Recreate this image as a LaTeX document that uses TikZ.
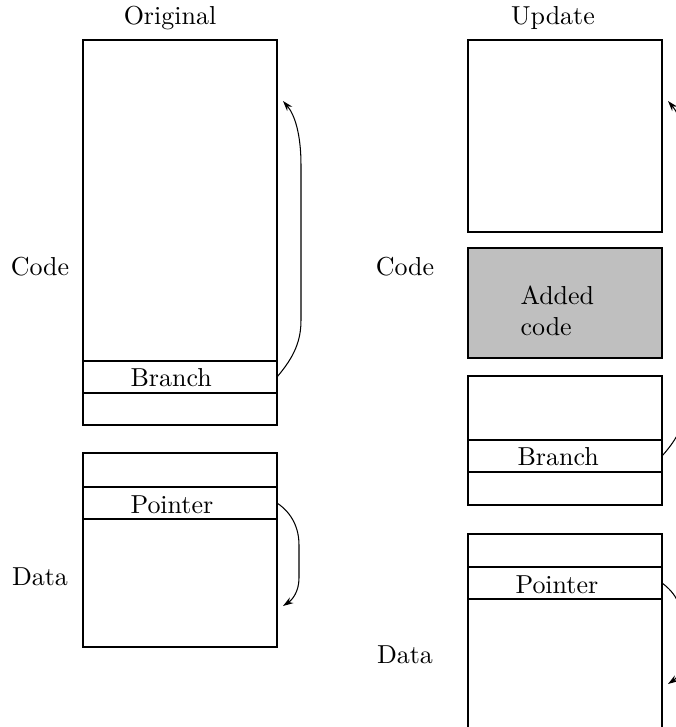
\documentclass[tikz,border=0pt]{standalone}
\usetikzlibrary{arrows.meta,positioning}
\definecolor{addedgray}{RGB}{191,191,191}
\tikzset{
  memslot/.style={draw,minimum width=74.7pt,minimum height=#1*0.385pt,
                  inner sep=0pt,outer sep=0pt},
  slottext/.style={anchor=west,inner sep=0pt},
  jump/.style={-{Stealth[length=4pt,width=2.6pt]}}
}
\begin{document}
\begin{tikzpicture}[x=0.385pt,y=-0.385pt]
  \useasboundingbox (0,0) rectangle (676,727);
  %% Titles
  \node (otitle) at (170,18) {Original};
  \node (utitle) at (553,18) {Update};
  %% Original: code segment
  \node[memslot=321] (ocode)   at (180,200.5) {};
  \node[memslot=32]  (obranch) at (180,377) {};
  \node[memslot=32]  (ocodeend) at (180,409) {};
  \node[slottext] at (130,378) {Branch};
  %% Original: data segment
  \node[memslot=34]  (odatatop) at (180,470) {};
  \node[memslot=32]  (opointer) at (180,503) {};
  \node[memslot=128] (odata)    at (180,583) {};
  \node[slottext] at (130,505) {Pointer};
  %% Update: code segment
  \node[memslot=192] (ucode)   at (565,136) {};
  \node[memslot=110,fill=addedgray] (uadded) at (565,303) {};
  \node[slottext,align=left] at (520,311) {Added\\code};
  \node[memslot=64]  (ucodemid) at (565,408) {};
  \node[memslot=32]  (ubranch)  at (565,456) {};
  \node[memslot=33]  (ucodeend) at (565,488.5) {};
  \node[slottext] at (517,457) {Branch};
  %% Update: data segment
  \node[memslot=33]  (udatatop) at (565,550.5) {};
  \node[memslot=32]  (upointer) at (565,583) {};
  \node[memslot=146] (udata)    at (565,672) {};
  \node[slottext] at (515,585) {Pointer};
  %% Segment labels
  \node (ocodelbl) at (40,267) {Code};
  \node (odatalbl) at (40,577) {Data};
  \node (ucodelbl) at (405,267) {Code};
  \node (udatalbl) at (405,655) {Data};
  %% Jump and pointer targets
  \coordinate (ojump)  at (283,101);
  \coordinate (oderef) at (283,606);
  \coordinate (ujump)  at (668,101);
  \coordinate (uderef) at (668,684);
  %% Connectors
  \draw[jump] (obranch.east) .. controls (295,356) and (301,340) .. (301,320)
    -- (301,165) .. controls (301,135) and (295,115) .. (ojump);
  \draw[jump] (opointer.east) .. controls (292,513) and (299,528) .. (299,545)
    -- (299,578) .. controls (299,592) and (292,600) .. (oderef);
  \draw[jump] (ubranch.east) .. controls (680,436) and (686,420) .. (686,400)
    -- (686,165) .. controls (686,135) and (680,115) .. (ujump);
  \draw[jump] (upointer.east) .. controls (676,593) and (683,608) .. (683,623)
    -- (683,656) .. controls (683,670) and (677,678) .. (uderef);
\end{tikzpicture}
\end{document}
